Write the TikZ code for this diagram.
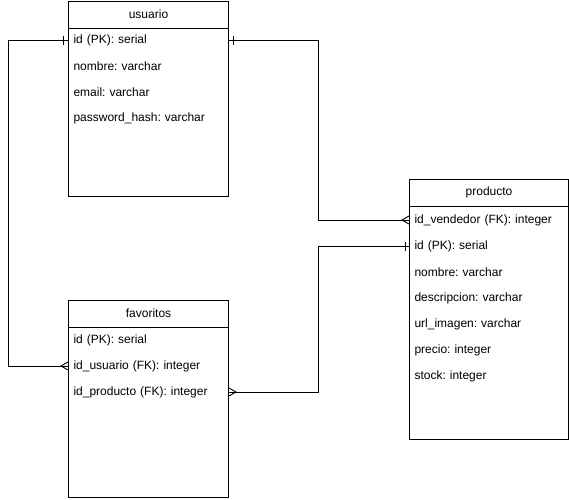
\documentclass[tikz,border=0pt]{standalone}
\usepackage{fontspec}
\setmainfont{Liberation Sans}
\frenchspacing
\begin{document}
\begin{tikzpicture}[x=1pt,y=-1pt,line width=1pt,
  entity/.style={draw,fill=white,anchor=north west,inner sep=0pt},
  header/.style={anchor=north west,minimum height=26pt,inner sep=0pt,font=\fontsize{12}{14}\selectfont},
  field/.style={anchor=west,inner xsep=5pt,inner ysep=0pt,minimum height=26pt,align=left,font=\fontsize{12}{14}\selectfont},
  rel/.style={line width=1pt},
  endmark/.style={line width=0.9pt}]
\useasboundingbox (0,0) rectangle (569,499);

% usuario
\node[entity,minimum width=160pt,minimum height=195pt] (usuario) at (68,1) {};
\node[header,minimum width=160pt] (usuarioH) at (68,1) {usuario};
\draw (usuarioH.south west) -- (usuarioH.south east);
\node[field,text width=150pt] (uId) at (68,40) {id (PK): serial};
\node[field,text width=150pt] (uNombre) at (68,66) {nombre: varchar};
\node[field,text width=150pt] (uEmail) at (68,92) {email: varchar};
\node[field,text width=150pt] (uPass) at (68,118) {password\_hash: varchar};

% producto
\node[entity,minimum width=159pt,minimum height=260pt] (producto) at (409,179) {};
\node[header,minimum width=159pt] (productoH) at (409,179) {producto};
\draw (productoH.south west) -- (productoH.south east);
\node[field,text width=149pt] (pVend) at (409,220) {id\_vendedor (FK): integer};
\node[field,text width=149pt] (pId) at (409,246) {id (PK): serial};
\node[field,text width=149pt] (pNombre) at (409,272) {nombre: varchar};
\node[field,text width=149pt] (pDesc) at (409,298) {descripcion: varchar};
\node[field,text width=149pt] (pUrl) at (409,324) {url\_imagen: varchar};
\node[field,text width=149pt] (pPrecio) at (409,350) {precio: integer};
\node[field,text width=149pt] (pStock) at (409,376) {stock: integer};

% favoritos
\node[entity,minimum width=160pt,minimum height=197pt] (favoritos) at (68,300) {};
\node[header,minimum width=160pt] (favoritosH) at (68,300) {favoritos};
\draw (favoritosH.south west) -- (favoritosH.south east);
\node[field,text width=150pt] (fId) at (68,340) {id (PK): serial};
\node[field,text width=150pt] (fUsr) at (68,366) {id\_usuario (FK): integer};
\node[field,text width=150pt] (fProd) at (68,392) {id\_producto (FK): integer};

% relationships
\coordinate (bendL) at (8,0);
\coordinate (bendA) at (318,0);
\coordinate (bendB) at (318,0);
\draw[rel] (uId.west) -- (uId.west -| bendL) |- (fUsr.west);
\draw[rel] (uId.east) -- (uId.east -| bendA) |- (pVend.west);
\draw[rel] (fProd.east) -- (fProd.east -| bendB) |- (pId.west);

% one marks
\draw[endmark] ([xshift=-5pt,yshift=4.5pt]uId.west) -- ([xshift=-5pt,yshift=-4.5pt]uId.west);
\draw[endmark] ([xshift=4pt,yshift=4.5pt]uId.east) -- ([xshift=4pt,yshift=-4.5pt]uId.east);
\draw[endmark] ([xshift=-4pt,yshift=4.5pt]pId.west) -- ([xshift=-4pt,yshift=-4.5pt]pId.west);

% many marks
\draw[endmark] ([yshift=-4pt]fUsr.west) -- ([xshift=-7pt]fUsr.west) -- ([yshift=4pt]fUsr.west);
\draw[endmark] ([yshift=-4pt]pVend.west) -- ([xshift=-7pt]pVend.west) -- ([yshift=4pt]pVend.west);
\draw[endmark] ([yshift=-4pt]fProd.east) -- ([xshift=7pt]fProd.east) -- ([yshift=4pt]fProd.east);
\end{tikzpicture}
\end{document}
